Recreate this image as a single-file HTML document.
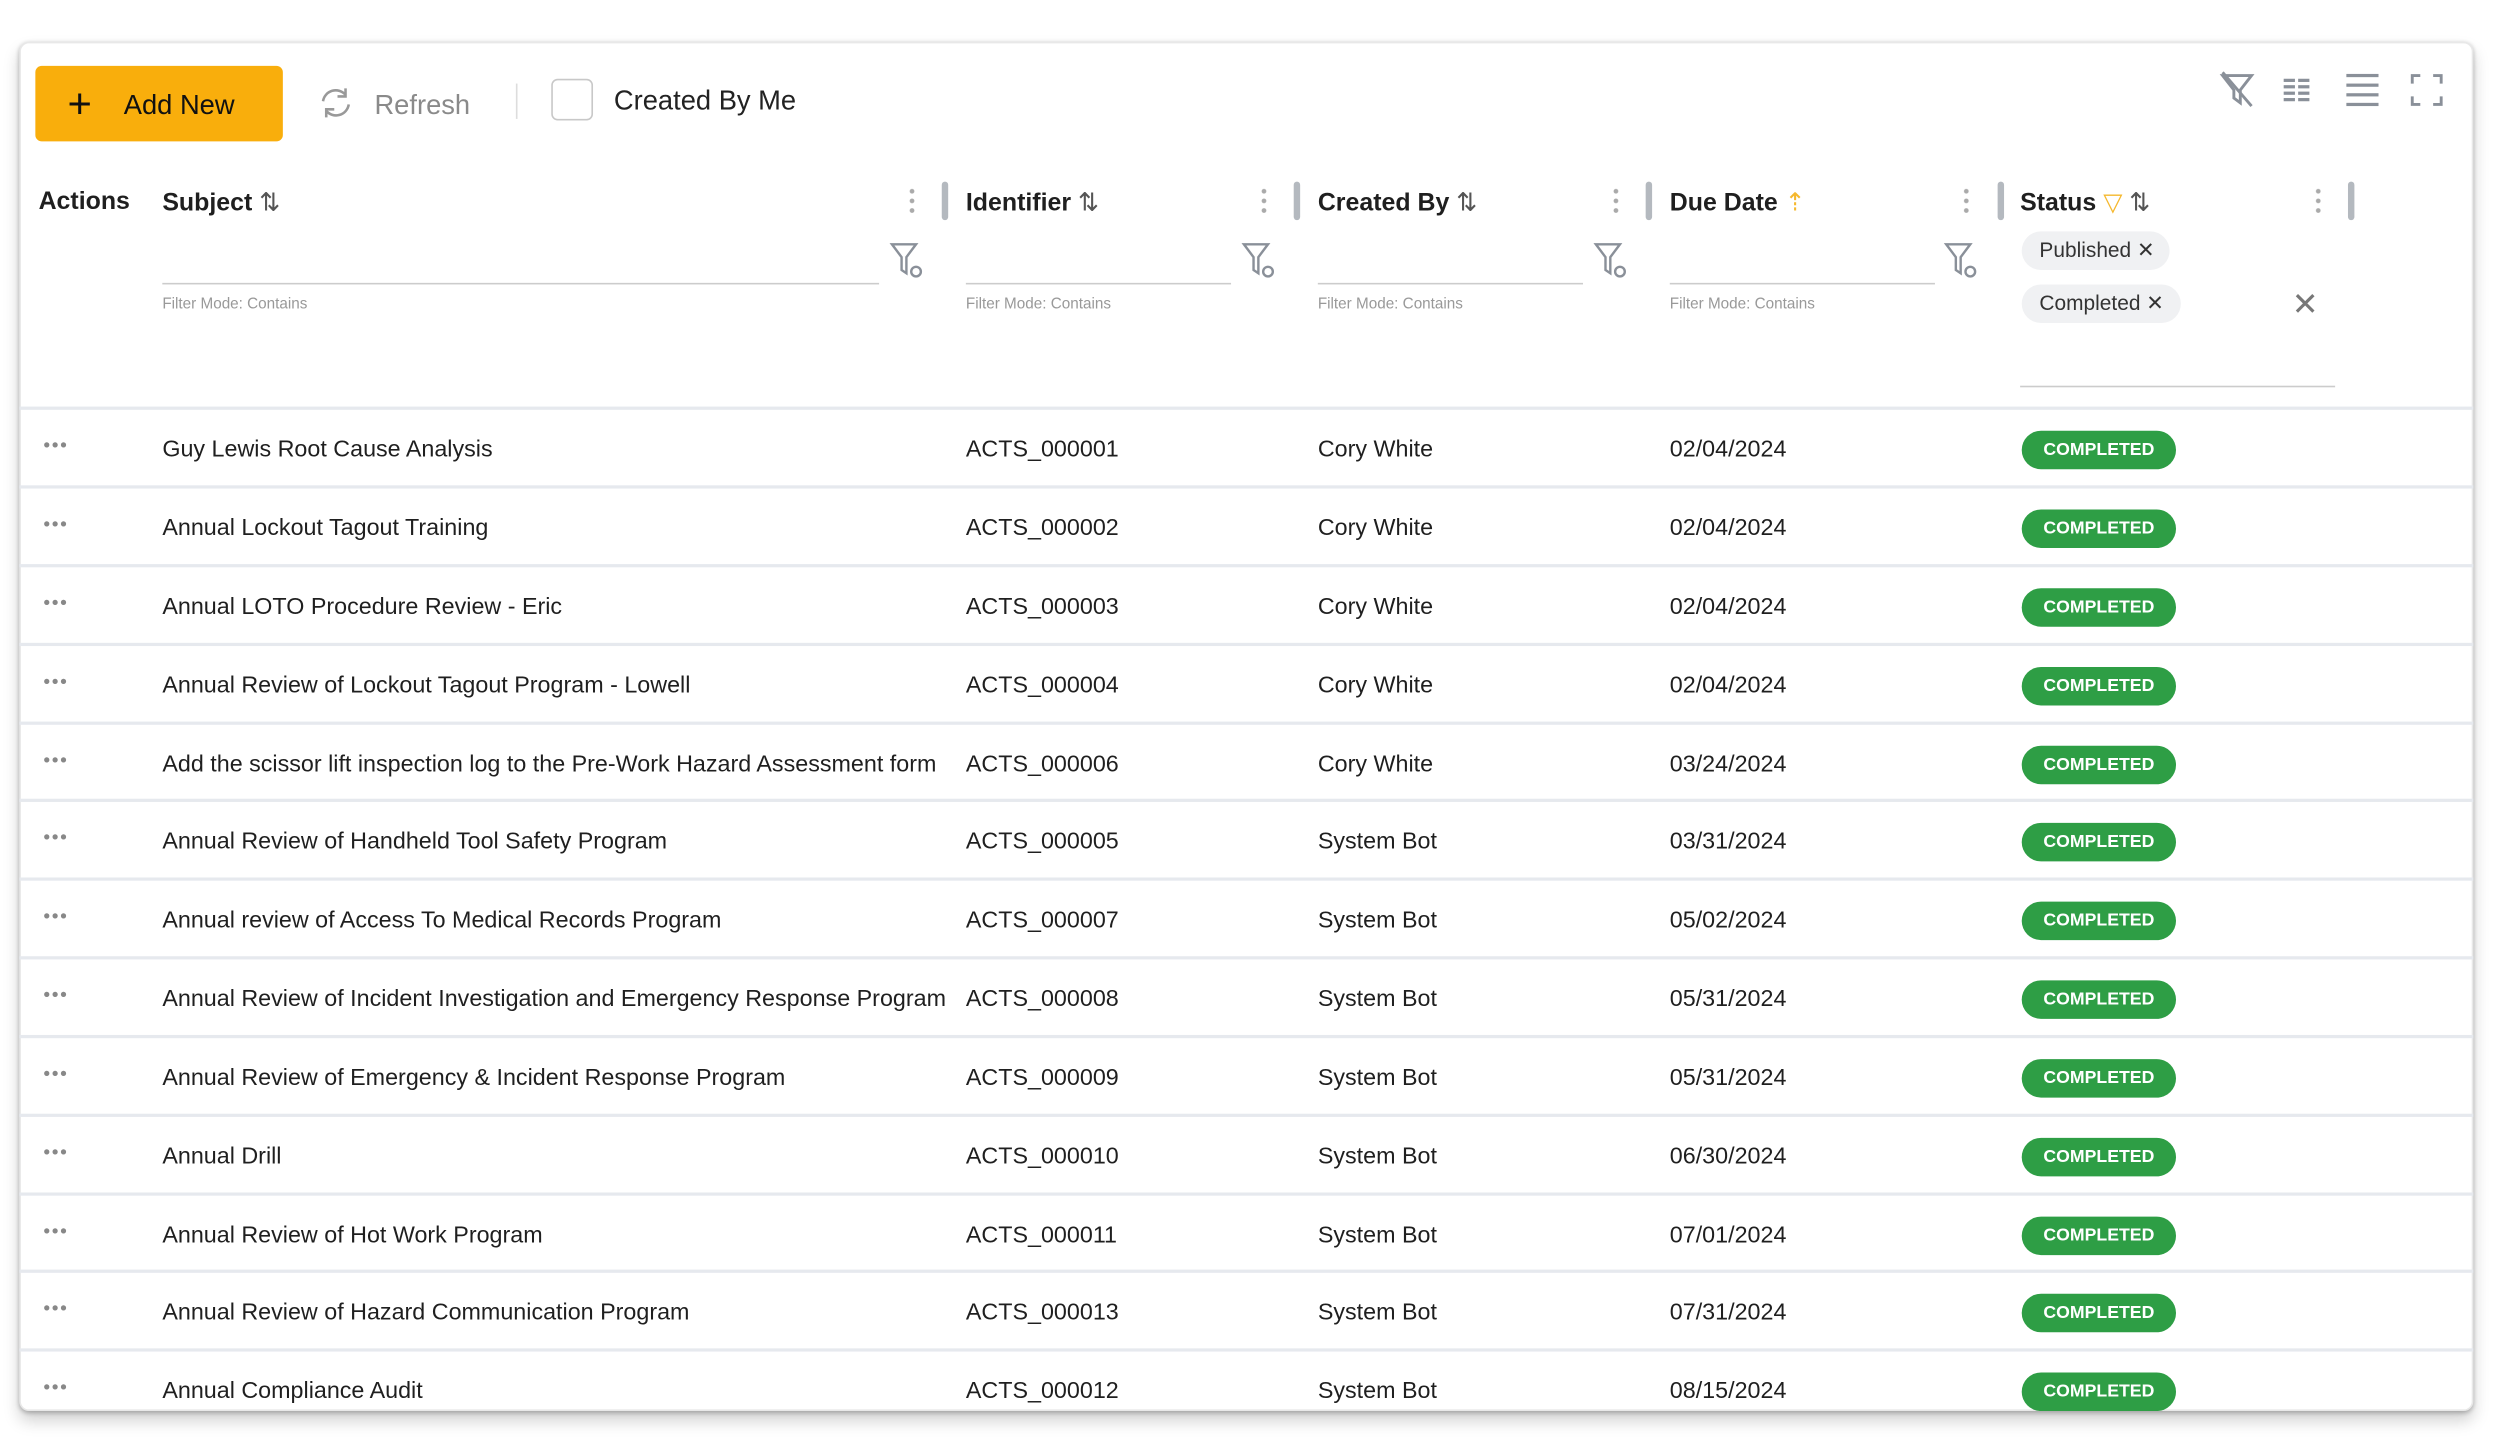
<!DOCTYPE html>
<html><head><meta charset="utf-8"><style>
*{box-sizing:border-box;margin:0;padding:0}
html,body{width:2520px;height:1441px;overflow:hidden;background:#fff}
#w{position:absolute;left:0;top:0;width:1568px;height:897px;transform:scale(1.6071);transform-origin:0 0;font-family:"Liberation Sans",sans-serif;color:#1f1f1f}
.card{position:absolute;left:12px;top:26px;width:1527px;height:852px;background:#fff;border-radius:6px;box-shadow:0 1px 3px rgba(0,0,0,.25),0 6px 10px rgba(0,0,0,.18);border:1px solid #e8e8e8;overflow:hidden}
.a{position:absolute;white-space:nowrap}
.btn{left:22px;top:41px;width:154px;height:47px;background:#f9ae0c;border-radius:4px}
.h{font-weight:bold;font-size:15.5px;top:117px}
.sep{position:absolute;top:113px;width:4px;height:24px;background:#b4b9bf;border-radius:2px}
.dots{position:absolute;top:116px;width:3px;height:17px;background:radial-gradient(circle,#aaa 1.3px,transparent 1.6px) 0 0/3px 6px repeat-y}
.ul{position:absolute;top:176px;height:1px;background:#ccc}
.fm{position:absolute;top:184px;font-size:9.5px;color:#999}
.row{position:absolute;left:12px;width:1527px;height:48.8px;border-top:2px solid #e6e9ee;font-size:14.5px}
.row span{position:absolute;top:17px;white-space:nowrap}
.badge{position:absolute;left:1246px;top:13px;width:96px;height:24px;border-radius:12px;background:#2e9e45;color:#fff;font-weight:bold;font-size:11px;text-align:center;line-height:24px}
.row span.rd{left:15px;top:15px;font-size:12px;color:#888;letter-spacing:1px}
.chip{position:absolute;left:1258px;height:24px;border-radius:12px;background:#f0f1f3;font-size:13px;line-height:24px;padding-left:11px;color:#333}
</style></head><body><div id="w">
<div class="card"></div>
<div class="a btn"></div>
<div class="a" style="left:42px;top:52px;font-size:26px;line-height:24px;color:#111">+</div>
<div class="a" style="left:77px;top:56px;font-size:17px;font-weight:500;color:#111">Add New</div>
<svg class="a" style="left:198px;top:53px" width="22" height="22" viewBox="0 0 22 22"><path d="M17 6A8 8 0 0 0 3 10M5 16A8 8 0 0 0 19 12" fill="none" stroke="#999" stroke-width="1.6"/><path d="M17 2v5h-5M5 20v-5h5" fill="none" stroke="#999" stroke-width="1.6"/></svg>
<div class="a" style="left:233px;top:56px;font-size:17px;color:#8a8a8a">Refresh</div>
<div class="a" style="left:321px;top:52px;width:1px;height:22px;background:#ddd"></div>
<div class="a" style="left:343px;top:49px;width:26px;height:26px;border:1.5px solid #c8c8c8;border-radius:4px"></div>
<div class="a" style="left:382px;top:53px;font-size:17px;color:#222">Created By Me</div>
<svg class="a" style="left:1380px;top:43px" width="145" height="26" viewBox="0 0 145 26"><path d="M3 4h18l-7 9v8l-4-3v-5z" fill="none" stroke="#8a9099" stroke-width="1.8"/><path d="M3 2l18 21" stroke="#8a9099" stroke-width="1.8"/><g fill="#8a9099"><rect x="41" y="6" width="7" height="2"/><rect x="50" y="6" width="7" height="2"/><rect x="41" y="10" width="7" height="2"/><rect x="50" y="10" width="7" height="2"/><rect x="41" y="14" width="7" height="2"/><rect x="50" y="14" width="7" height="2"/><rect x="41" y="18" width="7" height="2"/><rect x="50" y="18" width="7" height="2"/><rect x="80" y="3" width="20" height="2"/><rect x="80" y="9" width="20" height="2"/><rect x="80" y="15" width="20" height="2"/><rect x="80" y="21" width="20" height="2"/></g><path d="M121 9V4h5M134 4h5v5M139 17v5h-5M126 22h-5v-5" fill="none" stroke="#8a9099" stroke-width="1.8"/></svg>
<div class="a h" style="left:24px">Actions</div>
<div class="a h" style="left:101px">Subject <span style="font-weight:normal;color:#555">⇅</span></div>
<div class="a h" style="left:601px">Identifier <span style="font-weight:normal;color:#555">⇅</span></div>
<div class="a h" style="left:820px">Created By <span style="font-weight:normal;color:#555">⇅</span></div>
<div class="a h" style="left:1039px">Due Date <span style="font-weight:normal;color:#f5b82e">⇡</span></div>
<div class="a h" style="left:1257px">Status <span style="font-weight:normal;color:#f5b82e">▽</span> <span style="font-weight:normal;color:#555">⇅</span></div>
<div class="dots" style="left:566px"></div><div class="sep" style="left:586px"></div>
<div class="dots" style="left:785px"></div><div class="sep" style="left:805px"></div>
<div class="dots" style="left:1004px"></div><div class="sep" style="left:1024px"></div>
<div class="dots" style="left:1222px"></div><div class="sep" style="left:1243px"></div>
<div class="dots" style="left:1441px"></div><div class="sep" style="left:1461px"></div>
<div class="ul" style="left:101px;width:446px"></div><div class="ul" style="left:601px;width:165px"></div><div class="ul" style="left:820px;width:165px"></div><div class="ul" style="left:1039px;width:165px"></div><div class="ul" style="left:1257px;width:196px;top:240px"></div>
<svg class="a" style="left:553px;top:150px" width="24" height="26"><path d="M2 2h15l-6 8v10l-3-2v-8z" fill="none" stroke="#8a9099" stroke-width="1.5"/><circle cx="17" cy="19" r="3" fill="none" stroke="#8a9099" stroke-width="1.5"/></svg>
<svg class="a" style="left:772px;top:150px" width="24" height="26"><path d="M2 2h15l-6 8v10l-3-2v-8z" fill="none" stroke="#8a9099" stroke-width="1.5"/><circle cx="17" cy="19" r="3" fill="none" stroke="#8a9099" stroke-width="1.5"/></svg>
<svg class="a" style="left:991px;top:150px" width="24" height="26"><path d="M2 2h15l-6 8v10l-3-2v-8z" fill="none" stroke="#8a9099" stroke-width="1.5"/><circle cx="17" cy="19" r="3" fill="none" stroke="#8a9099" stroke-width="1.5"/></svg>
<svg class="a" style="left:1209px;top:150px" width="24" height="26"><path d="M2 2h15l-6 8v10l-3-2v-8z" fill="none" stroke="#8a9099" stroke-width="1.5"/><circle cx="17" cy="19" r="3" fill="none" stroke="#8a9099" stroke-width="1.5"/></svg>
<div class="fm" style="left:101px">Filter Mode: Contains</div><div class="fm" style="left:601px">Filter Mode: Contains</div><div class="fm" style="left:820px">Filter Mode: Contains</div><div class="fm" style="left:1039px">Filter Mode: Contains</div>
<div class="chip" style="top:144px;width:92px">Published ✕</div>
<div class="chip" style="top:177px;width:99px">Completed ✕</div>
<div class="a" style="left:1426px;top:177px;font-size:20px;color:#777">✕</div>

<div class="row" style="top:253px"><span class="rd">•••</span><span style="left:89px">Guy Lewis Root Cause Analysis</span><span style="left:589px">ACTS_000001</span><span style="left:808px">Cory White</span><span style="left:1027px">02/04/2024</span><div class="badge">COMPLETED</div></div>
<div class="row" style="top:302px"><span class="rd">•••</span><span style="left:89px">Annual Lockout Tagout Training</span><span style="left:589px">ACTS_000002</span><span style="left:808px">Cory White</span><span style="left:1027px">02/04/2024</span><div class="badge">COMPLETED</div></div>
<div class="row" style="top:351px"><span class="rd">•••</span><span style="left:89px">Annual LOTO Procedure Review - Eric</span><span style="left:589px">ACTS_000003</span><span style="left:808px">Cory White</span><span style="left:1027px">02/04/2024</span><div class="badge">COMPLETED</div></div>
<div class="row" style="top:400px"><span class="rd">•••</span><span style="left:89px">Annual Review of Lockout Tagout Program - Lowell</span><span style="left:589px">ACTS_000004</span><span style="left:808px">Cory White</span><span style="left:1027px">02/04/2024</span><div class="badge">COMPLETED</div></div>
<div class="row" style="top:449px"><span class="rd">•••</span><span style="left:89px;width:490px;overflow:hidden">Add the scissor lift inspection log to the Pre-Work Hazard Assessment form</span><span style="left:589px">ACTS_000006</span><span style="left:808px">Cory White</span><span style="left:1027px">03/24/2024</span><div class="badge">COMPLETED</div></div>
<div class="row" style="top:497px"><span class="rd">•••</span><span style="left:89px">Annual Review of Handheld Tool Safety Program</span><span style="left:589px">ACTS_000005</span><span style="left:808px">System Bot</span><span style="left:1027px">03/31/2024</span><div class="badge">COMPLETED</div></div>
<div class="row" style="top:546px"><span class="rd">•••</span><span style="left:89px">Annual review of Access To Medical Records Program</span><span style="left:589px">ACTS_000007</span><span style="left:808px">System Bot</span><span style="left:1027px">05/02/2024</span><div class="badge">COMPLETED</div></div>
<div class="row" style="top:595px"><span class="rd">•••</span><span style="left:89px;width:490px;overflow:hidden">Annual Review of Incident Investigation and Emergency Response Program</span><span style="left:589px">ACTS_000008</span><span style="left:808px">System Bot</span><span style="left:1027px">05/31/2024</span><div class="badge">COMPLETED</div></div>
<div class="row" style="top:644px"><span class="rd">•••</span><span style="left:89px">Annual Review of Emergency &amp; Incident Response Program</span><span style="left:589px">ACTS_000009</span><span style="left:808px">System Bot</span><span style="left:1027px">05/31/2024</span><div class="badge">COMPLETED</div></div>
<div class="row" style="top:693px"><span class="rd">•••</span><span style="left:89px">Annual Drill</span><span style="left:589px">ACTS_000010</span><span style="left:808px">System Bot</span><span style="left:1027px">06/30/2024</span><div class="badge">COMPLETED</div></div>
<div class="row" style="top:742px"><span class="rd">•••</span><span style="left:89px">Annual Review of Hot Work Program</span><span style="left:589px">ACTS_000011</span><span style="left:808px">System Bot</span><span style="left:1027px">07/01/2024</span><div class="badge">COMPLETED</div></div>
<div class="row" style="top:790px"><span class="rd">•••</span><span style="left:89px">Annual Review of Hazard Communication Program</span><span style="left:589px">ACTS_000013</span><span style="left:808px">System Bot</span><span style="left:1027px">07/31/2024</span><div class="badge">COMPLETED</div></div>
<div class="row" style="top:839px;height:39px;overflow:hidden"><span class="rd">•••</span><span style="left:89px">Annual Compliance Audit</span><span style="left:589px">ACTS_000012</span><span style="left:808px">System Bot</span><span style="left:1027px">08/15/2024</span><div class="badge">COMPLETED</div></div>
</div></body></html>
